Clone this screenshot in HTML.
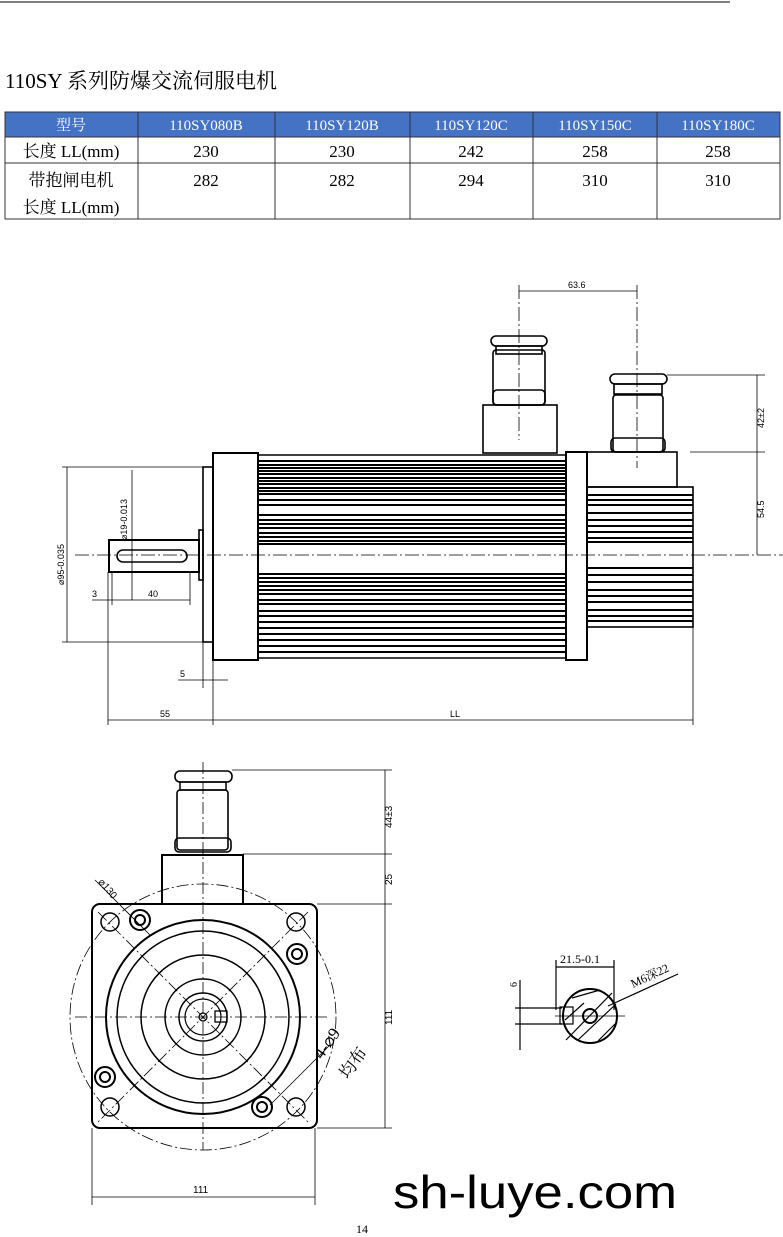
<!DOCTYPE html>
<html><head><meta charset="utf-8"><style>
html,body{margin:0;padding:0;background:#fff}
body{width:783px;height:1237px;position:relative;overflow:hidden;font-family:"Liberation Serif","Noto Serif CJK SC",serif}
svg{position:absolute;left:0;top:0}
</style></head><body>
<svg width="783" height="1237" viewBox="0 0 783 1237" xmlns="http://www.w3.org/2000/svg">
<line x1="0" y1="2" x2="730" y2="2" stroke="#000" stroke-width="1"/>
<text x="5" y="88" font-size="21" font-family="Liberation Serif,'Noto Serif CJK SC',serif">110SY 系列防爆交流伺服电机</text>
<!-- table -->
<rect x="5" y="112" width="775" height="25" fill="#4472c4"/>
<g stroke="#333" stroke-width="1" fill="none">
<rect x="5" y="112" width="775" height="107"/>
<line x1="5" y1="137" x2="780" y2="137"/><line x1="5" y1="163" x2="780" y2="163"/>
<line x1="138" y1="112" x2="138" y2="219"/><line x1="275" y1="112" x2="275" y2="219"/>
<line x1="410" y1="112" x2="410" y2="219"/><line x1="533" y1="112" x2="533" y2="219"/>
<line x1="657" y1="112" x2="657" y2="219"/>
</g>
<g font-size="15" text-anchor="middle" fill="#fff" font-family="Liberation Serif,'Noto Serif CJK SC',serif">
<text x="71" y="130">型号</text><text x="206" y="130">110SY080B</text><text x="342" y="130">110SY120B</text><text x="471" y="130">110SY120C</text><text x="595" y="130">110SY150C</text><text x="718" y="130">110SY180C</text>
</g>
<g font-size="17" text-anchor="middle" fill="#000" font-family="Liberation Serif,'Noto Serif CJK SC',serif">
<text x="71" y="157">长度 LL(mm)</text><text x="206" y="157">230</text><text x="342" y="157">230</text><text x="471" y="157">242</text><text x="595" y="157">258</text><text x="718" y="157">258</text>
<text x="71" y="186">带抱闸电机</text><text x="71" y="213">长度 LL(mm)</text>
<text x="206" y="186">282</text><text x="342" y="186">282</text><text x="471" y="186">294</text><text x="595" y="186">310</text><text x="718" y="186">310</text>
</g>
<!-- side view -->
<g stroke="#000" fill="none" stroke-width="1.6">
<rect x="213" y="453" width="45" height="207" stroke-width="2"/>
<rect x="258" y="455" width="308" height="203" stroke-width="1.5"/>
<rect x="566" y="452" width="21" height="208" stroke-width="2"/>
<rect x="587" y="452" width="90" height="35"/>
<rect x="587" y="487" width="106" height="140"/>
<rect x="203" y="467" width="10" height="175"/>
<rect x="199" y="530" width="4" height="50"/>
<rect x="109" y="540" width="90" height="32" stroke-width="2"/>
<rect x="117" y="550" width="70" height="12" rx="6"/>
<rect x="483" y="405" width="74" height="48"/>
<rect x="493" y="350" width="52" height="55" rx="3"/>
<rect x="493" y="390" width="52" height="15" rx="4"/>
<rect x="491" y="336" width="56" height="10" rx="5"/>
<rect x="496" y="346" width="46" height="8"/>
<rect x="613" y="395" width="50" height="57" rx="3"/>
<rect x="611" y="438" width="54" height="14" rx="4"/>
<rect x="610" y="374" width="57" height="10" rx="5"/>
<rect x="614" y="384" width="48" height="10"/>
</g>
<g stroke="#000" stroke-width="2">
<path d="M258 461H566M258 465H566M258 468H566M258 471H566M258 474H566M258 478H566M258 481H566M258 484H566M258 488H566M258 491H566M258 494H566M258 500H566M258 505H566M258 515H566M258 520H566M258 524H566M258 528H566M258 533H566M258 537H566M258 541H566M258 544H566M258 574H566M258 578H566M258 582H566M258 586H566M258 590H566M258 594H566M258 600H566M258 604H566M258 611H566M258 616H566M258 622H566M258 628H566M258 634H566M258 640H566M258 646H566M258 652H566"/>
<path d="M587 495H693M587 500H693M587 505H693M587 513H693M587 520H693M587 526H693M587 532H693M587 538H693M587 542H693M587 568H693M587 575H693M587 582H693M587 590H693M587 596H693M587 602H693M587 610H693M587 616H693M587 621H693"/>
</g>
<g stroke="#000" stroke-width="0.8" fill="none">
<line x1="75" y1="555" x2="783" y2="555" stroke-dasharray="14,3,2,3"/>
<line x1="519" y1="285" x2="519" y2="440" stroke-dasharray="14,3,2,3"/>
<line x1="637" y1="285" x2="637" y2="468" stroke-dasharray="14,3,2,3"/>
<line x1="519" y1="291" x2="637" y2="291"/>
<line x1="667" y1="375" x2="765" y2="375"/><line x1="690" y1="452" x2="765" y2="452"/>
<line x1="757" y1="375" x2="757" y2="555"/>
<line x1="62" y1="467" x2="203" y2="467"/><line x1="62" y1="642" x2="203" y2="642"/>
<line x1="67" y1="467" x2="67" y2="642"/>
<line x1="132" y1="470" x2="132" y2="600"/>
<line x1="92" y1="600" x2="190" y2="600"/><line x1="112" y1="572" x2="112" y2="605"/><line x1="190" y1="572" x2="190" y2="605"/>
<line x1="108" y1="572" x2="108" y2="725"/><line x1="213" y1="660" x2="213" y2="725"/><line x1="693" y1="627" x2="693" y2="725"/>
<line x1="108" y1="720" x2="693" y2="720"/>
<line x1="203" y1="642" x2="203" y2="688"/>
<line x1="178" y1="680" x2="228" y2="680"/>
</g>
<g font-size="9" font-family="Liberation Sans,sans-serif" fill="#000">
<text x="568" y="288">63.6</text>
<text x="160" y="717">55</text><text x="450" y="717">LL</text>
<text x="180" y="677">5</text><text x="92" y="597">3</text><text x="148" y="597">40</text>
<text transform="translate(764,428) rotate(-90)">42±2</text>
<text transform="translate(764,518) rotate(-90)">54.5</text>
<text transform="translate(64,585) rotate(-90)">⌀95-0.035</text>
<text transform="translate(127,540) rotate(-90)">⌀19-0.013</text>
</g>
<!-- front view -->
<g stroke="#000" fill="none" stroke-width="0.8">
<circle cx="203" cy="1017" r="133" stroke-dasharray="12,3,2,3"/>
<line x1="75" y1="1017" x2="330" y2="1017" stroke-dasharray="12,3,2,3"/>
<line x1="203" y1="762" x2="203" y2="1150" stroke-dasharray="12,3,2,3"/>
<line x1="98" y1="912" x2="308" y2="1122" stroke-dasharray="12,3,2,3"/>
<line x1="308" y1="912" x2="98" y2="1122" stroke-dasharray="12,3,2,3"/>
<line x1="232" y1="770" x2="392" y2="770"/><line x1="243" y1="854" x2="392" y2="854"/>
<line x1="317" y1="904" x2="392" y2="904"/><line x1="317" y1="1128" x2="392" y2="1128"/>
<line x1="385" y1="770" x2="385" y2="1128"/>
<line x1="92" y1="1128" x2="92" y2="1205"/><line x1="315" y1="1128" x2="315" y2="1205"/>
<line x1="92" y1="1197" x2="315" y2="1197"/>
<line x1="95" y1="880" x2="150" y2="935"/>
<line x1="270" y1="1105" x2="330" y2="1045"/>
</g>
<g stroke="#000" fill="none" stroke-width="2">
<rect x="92" y="904" width="225" height="224" rx="8"/>
<rect x="162" y="855" width="81" height="49"/>
<circle cx="203" cy="1017" r="97"/>
<circle cx="203" cy="1017" r="86" stroke-width="1.5"/>
<circle cx="203" cy="1017" r="62" stroke-width="1.5"/>
<circle cx="203" cy="1017" r="38" stroke-width="1.5"/>
<circle cx="203" cy="1017" r="24" stroke-width="1.5"/>
<circle cx="203" cy="1017" r="18" stroke-width="1.2"/>
<circle cx="203" cy="1017" r="4" stroke-width="1.2"/>
<rect x="215" y="1011" width="12" height="11" stroke-width="1.3"/>
<circle cx="110" cy="922" r="9" stroke-width="1.5"/><circle cx="296" cy="922" r="9" stroke-width="1.5"/>
<circle cx="110" cy="1107" r="9" stroke-width="1.5"/><circle cx="296" cy="1107" r="9" stroke-width="1.5"/>
<circle cx="140" cy="920" r="10"/><circle cx="140" cy="920" r="5"/>
<circle cx="297" cy="954" r="10"/><circle cx="297" cy="954" r="5"/>
<circle cx="105" cy="1077" r="10"/><circle cx="105" cy="1077" r="5"/>
<circle cx="262" cy="1107" r="10"/><circle cx="262" cy="1107" r="5"/>
<rect x="177" y="790" width="51" height="60" rx="3" stroke-width="1.6"/>
<rect x="175" y="838" width="56" height="14" rx="4" stroke-width="1.6"/>
<rect x="175" y="771" width="57" height="11" rx="5" stroke-width="1.6"/>
<rect x="180" y="782" width="46" height="8" stroke-width="1.5"/>
</g>
<g font-size="10" font-family="Liberation Sans,sans-serif" fill="#000">
<text transform="translate(392,828) rotate(-90)">44±3</text>
<text transform="translate(392,885) rotate(-90)">25</text>
<text transform="translate(392,1025) rotate(-90)">111</text>
<text x="193" y="1193">111</text>
<text transform="translate(98,882) rotate(50)">⌀130</text>
</g>
<g font-size="17" fill="#000" font-family="Liberation Serif,'Noto Serif CJK SC',serif">
<text transform="translate(322,1060) rotate(-55)">4-⌀9</text>
<text transform="translate(348,1080) rotate(-55)">均布</text>
</g>
<!-- section -->
<g stroke="#000" fill="none" stroke-width="1.2">
<circle cx="590" cy="1016" r="27" stroke-width="2"/>
<circle cx="590" cy="1016" r="7" stroke-width="2"/>
<rect x="560" y="1007" width="13" height="17"/>
<path d="M572 998L600 990M566 1040L612 993M578 1040L616 1004M598 1041L617 1022M565 1020L584 1003"/>
<line x1="515" y1="1008" x2="562" y2="1008"/><line x1="515" y1="1024" x2="562" y2="1024"/>
<line x1="520" y1="980" x2="520" y2="1050"/>
<line x1="556" y1="960" x2="556" y2="1010"/><line x1="614" y1="960" x2="614" y2="1010"/>
<line x1="556" y1="967" x2="614" y2="967"/>
<line x1="608" y1="1006" x2="678" y2="974"/>
<line x1="555" y1="1016" x2="625" y2="1016" stroke-width="0.8"/>
</g>
<g font-size="12" fill="#000" font-family="Liberation Serif,'Noto Serif CJK SC',serif">
<text x="560" y="963">21.5-0.1</text>
<text transform="translate(633,988) rotate(-25)">M6深22</text>
<text transform="translate(517,987) rotate(-90)" font-size="10">6</text>
</g>
<text x="393" y="1208" font-size="46" textLength="284" lengthAdjust="spacingAndGlyphs" font-family="Liberation Sans,sans-serif" fill="#000">sh-luye.com</text>
<text x="356" y="1233" font-size="12" font-family="Liberation Serif,serif">14</text>
</svg>
</body></html>
